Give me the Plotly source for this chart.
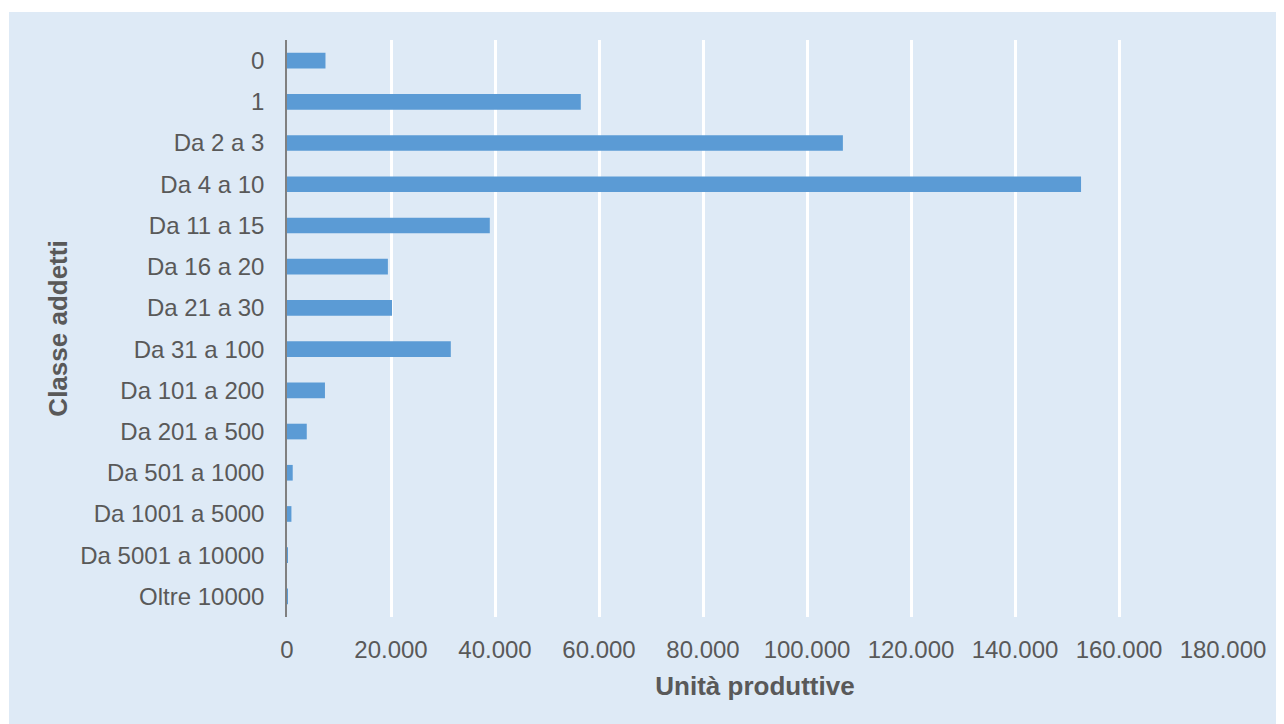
import plotly.graph_objects as go

categories = ["0", "1", "Da 2 a 3", "Da 4 a 10", "Da 11 a 15", "Da 16 a 20",
              "Da 21 a 30", "Da 31 a 100", "Da 101 a 200", "Da 201 a 500",
              "Da 501 a 1000", "Da 1001 a 5000", "Da 5001 a 10000", "Oltre 10000"]
unita_produttive = [7400, 56500, 106900, 152700, 39000, 19400,
                    20200, 31500, 7300, 3800, 1100, 850, 20, 8]
x_tickvals = [0, 20000, 40000, 60000, 80000, 100000, 120000, 140000, 160000, 180000]
x_ticktext = ["0", "20.000", "40.000", "60.000", "80.000", "100.000",
              "120.000", "140.000", "160.000", "180.000"]

# page body has an 8px margin; figure fills the rest of the window
W, H = 1276, 716
L, R, T, B = 279, 61, 32, 107
pw, ph = W - L - R, H - T - B

BG = "#DEEAF6"
TXT = "#595959"
FONT = "Liberation Sans, Arial, sans-serif"

fig = go.Figure(go.Bar(
    x=unita_produttive, y=categories, orientation="h",
    marker=dict(color="#5B9BD5", line=dict(width=0)),
    hoverinfo="x+y",
))

def px_x(p):
    return (p - L) / pw

def px_y(p):
    return (H - B - p) / ph

fig.update_layout(
    width=W, height=H,
    margin=dict(l=L, r=R, t=T, b=B, autoexpand=False),
    paper_bgcolor=BG, plot_bgcolor=BG,
    bargap=0.62,
    showlegend=False,
    font=dict(family=FONT, color=TXT, size=24),
    xaxis=dict(
        range=[0, 180000], tickvals=x_tickvals, ticktext=x_ticktext,
        showgrid=True, gridcolor="#FFFFFF", gridwidth=3,
        zeroline=False, showline=False, ticks="",
        ticklabelstandoff=16,
        tickfont=dict(size=24, color=TXT, family=FONT),
        title=dict(text="<b>Unità produttive</b>", standoff=14,
                   font=dict(size=26, color=TXT, family=FONT)),
        automargin=False, fixedrange=True,
    ),
    yaxis=dict(
        autorange="reversed", type="category",
        showgrid=False, zeroline=False,
        showline=True, linecolor="#808080", linewidth=1.5,
        ticks="", ticklabelstandoff=16,
        tickfont=dict(size=24, color=TXT, family=FONT),
        title=dict(text="<b>Classe addetti</b>", standoff=5,
                   font=dict(size=26, color=TXT, family=FONT)),
        automargin=False, fixedrange=True,
    ),
    shapes=[
        dict(type="rect", xref="paper", yref="paper", layer="above",
             x0=px_x(-5), x1=px_x(1), y0=px_y(730), y1=px_y(-5),
             fillcolor="#FFFFFF", line=dict(width=0)),
        dict(type="rect", xref="paper", yref="paper", layer="above",
             x0=px_x(-5), x1=px_x(1290), y0=px_y(4), y1=px_y(-5),
             fillcolor="#FFFFFF", line=dict(width=0)),
    ],
)

fig.write_html("out.html")
